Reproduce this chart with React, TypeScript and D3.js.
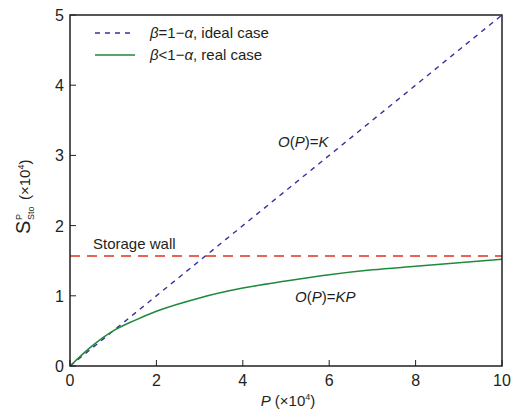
import React from "react";
import * as d3 from "d3";

const W = 517;
const H = 417;
const margin = { left: 70, top: 15, right: 15, bottom: 51 };

// P (x10^4) vs S (x10^4)
const idealP = [0, 10];
const idealS = [0, 5];
const realP = [0, 0.5, 1, 1.5, 2, 3, 4, 5, 6, 7, 8, 9, 10];
const realS = [0, 0.28, 0.5, 0.65, 0.78, 0.97, 1.11, 1.21, 1.3, 1.37, 1.42, 1.47, 1.52];
const wallS = 1.567;
const xTicks = [0, 2, 4, 6, 8, 10];
const yTicks = [0, 1, 2, 3, 4, 5];

const ink = "#231f20";
const blue = "#3b2f9e";
const green = "#1f8a3c";
const red = "#e0301e";
const font = "'Liberation Sans', Arial, sans-serif";

export default function App() {
  const x = d3.scaleLinear().domain([0, 10]).range([margin.left, W - margin.right]);
  const y = d3.scaleLinear().domain([0, 5]).range([H - margin.bottom, margin.top]);

  const line = d3
    .line<[number, number]>()
    .x((d) => x(d[0]))
    .y((d) => y(d[1]));
  const curve = d3
    .line<[number, number]>()
    .x((d) => x(d[0]))
    .y((d) => y(d[1]))
    .curve(d3.curveMonotoneX);

  const ideal = idealP.map((p, i) => [p, idealS[i]] as [number, number]);
  const real = realP.map((p, i) => [p, realS[i]] as [number, number]);

  const x0 = x.range()[0];
  const x1 = x.range()[1];
  const yb = y.range()[0];
  const yt = y.range()[1];

  return (
    <svg
      width={W}
      height={H}
      style={{ position: "absolute", left: 0, top: 0, background: "#fff" }}
      fontFamily={font}
    >
      <defs>
        <clipPath id="plot">
          <rect x={x0} y={yt} width={x1 - x0} height={yb - yt} />
        </clipPath>
      </defs>

      <g clipPath="url(#plot)">
        <line
          x1={x0}
          x2={x1}
          y1={y(wallS)}
          y2={y(wallS)}
          stroke={red}
          strokeWidth={1.4}
          strokeDasharray="10 7"
        />
        <path d={line(ideal) ?? ""} fill="none" stroke={blue} strokeWidth={1.4} strokeDasharray="5 5" />
        <path d={curve(real) ?? ""} fill="none" stroke={green} strokeWidth={1.6} />
      </g>

      {/* frame */}
      <rect x={x0} y={yt} width={x1 - x0} height={yb - yt} fill="none" stroke={ink} strokeWidth={1.5} />

      {/* x ticks */}
      {xTicks.map((t) => (
        <g key={"x" + t}>
          <line x1={x(t)} x2={x(t)} y1={yb} y2={yb - 6} stroke={ink} strokeWidth={1} />
          <text x={x(t)} y={yb + 20} textAnchor="middle" fontSize={16} fill={ink}>
            {t}
          </text>
        </g>
      ))}
      {/* y ticks */}
      {yTicks.map((t) => (
        <g key={"y" + t}>
          <line x1={x0} x2={x0 + 6} y1={y(t)} y2={y(t)} stroke={ink} strokeWidth={1} />
          <text x={x0 - 6} y={y(t) + 6} textAnchor="end" fontSize={16} fill={ink}>
            {t}
          </text>
        </g>
      ))}

      {/* x label */}
      <text x={288} y={406} textAnchor="middle" fontSize={15} fill={ink}>
        <tspan fontStyle="italic">P</tspan>
        <tspan> (×10</tspan>
        <tspan fontSize={9} dy={-6}>4</tspan>
        <tspan dy={6}>)</tspan>
      </text>

      {/* y label */}
      <g transform="translate(30,234) rotate(-90)" fill={ink}>
        <text x={0} y={0} fontSize={20}>S</text>
        <text x={14} y={-8} fontSize={9}>P</text>
        <text x={14} y={4} fontSize={9}>Sto</text>
        <text x={34} y={0} fontSize={15}>
          <tspan>(×10</tspan>
          <tspan fontSize={9} dy={-6}>4</tspan>
          <tspan dy={6}>)</tspan>
        </text>
      </g>

      {/* legend */}
      <line x1={95} x2={135} y1={33} y2={33} stroke={blue} strokeWidth={1.4} strokeDasharray="5 5" />
      <line x1={95} x2={135} y1={55} y2={55} stroke={green} strokeWidth={1.6} />
      <text x={150} y={38} fontSize={15} fill={ink}>
        <tspan fontStyle="italic">β</tspan>
        <tspan>=1−</tspan>
        <tspan fontStyle="italic">α</tspan>
        <tspan>, ideal case</tspan>
      </text>
      <text x={150} y={60} fontSize={15} fill={ink}>
        <tspan fontStyle="italic">β</tspan>
        <tspan>&lt;1−</tspan>
        <tspan fontStyle="italic">α</tspan>
        <tspan>, real case</tspan>
      </text>

      {/* annotations */}
      <text x={278} y={147} fontSize={15} fill={ink}>
        <tspan fontStyle="italic">O</tspan>
        <tspan>(</tspan>
        <tspan fontStyle="italic">P</tspan>
        <tspan>)=</tspan>
        <tspan fontStyle="italic">K</tspan>
      </text>
      <text x={295} y={302} fontSize={15} fill={ink}>
        <tspan fontStyle="italic">O</tspan>
        <tspan>(</tspan>
        <tspan fontStyle="italic">P</tspan>
        <tspan>)=</tspan>
        <tspan fontStyle="italic">KP</tspan>
      </text>
      <text x={93} y={249} fontSize={15} fill={ink}>
        Storage wall
      </text>
    </svg>
  );
}
